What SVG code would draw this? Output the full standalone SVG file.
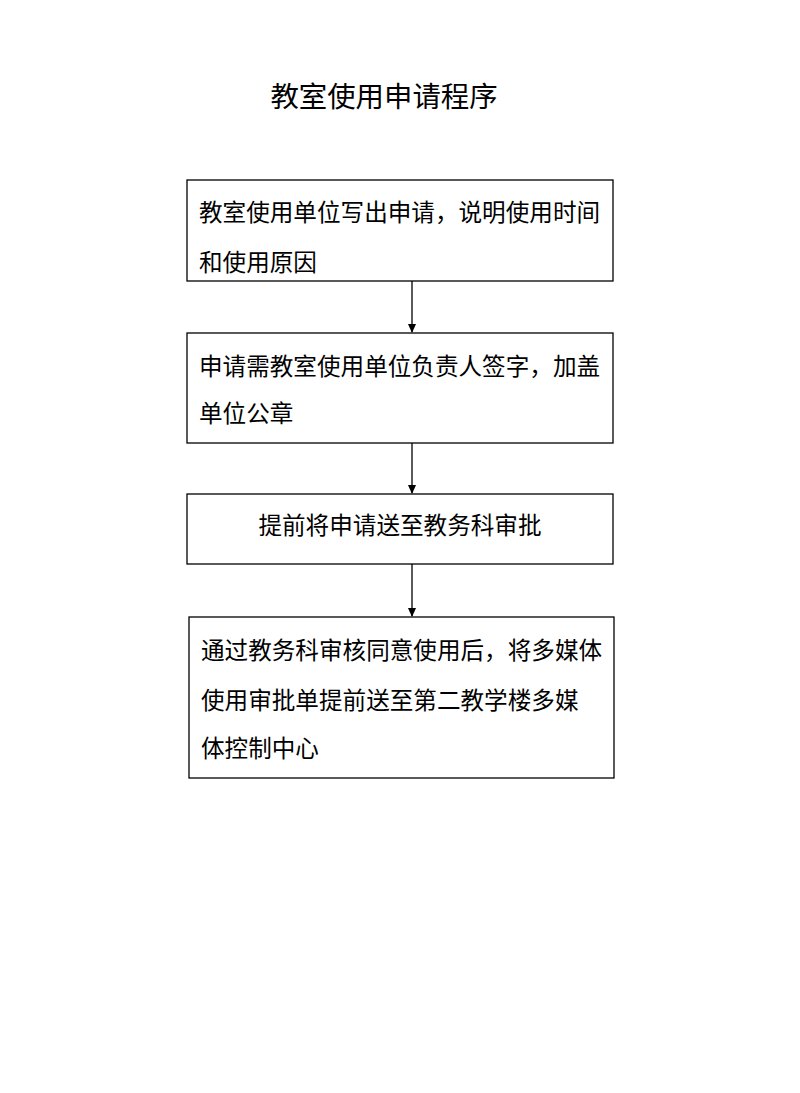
<svg xmlns="http://www.w3.org/2000/svg" width="800" height="1093" viewBox="0 0 800 1093">
<style>
.b{fill:#fff;stroke:#000;stroke-width:1.3}
.t{font-family:"Noto Sans CJK SC",sans-serif;font-size:23.6px;fill:#000}
.c{stroke:#000;stroke-width:1.3;fill:none}
</style>
<defs><marker id="a" markerWidth="10" markerHeight="10" refX="8" refY="5" orient="auto" markerUnits="userSpaceOnUse"><path d="M0,1 L9,5 L0,9 Z" fill="#000"/></marker></defs>
<rect width="800" height="1093" fill="#fff"/>
<text x="384" y="107" text-anchor="middle" font-family="Noto Sans CJK SC,sans-serif" font-size="28.4">教室使用申请程序</text>
<g id="n1"><rect class="b" x="187" y="180" width="426" height="101"/><text class="t" x="199" y="221">教室使用单位写出申请，说明使用时间</text><text class="t" x="199" y="271">和使用原因</text></g>
<g id="n2"><rect class="b" x="187" y="333" width="426" height="110"/><text class="t" x="199" y="375">申请需教室使用单位负责人签字，加盖</text><text class="t" x="199" y="422">单位公章</text></g>
<g id="n3"><rect class="b" x="187" y="494" width="426" height="70"/><text class="t" x="400" y="534" text-anchor="middle">提前将申请送至教务科审批</text></g>
<g id="n4"><rect class="b" x="189" y="617" width="425" height="161"/><text class="t" x="201" y="659">通过教务科审核同意使用后，将多媒体</text><text class="t" x="201" y="709">使用审批单提前送至第二教学楼多媒</text><text class="t" x="201" y="757">体控制中心</text></g>
<g id="connectors">
<line class="c" x1="412" y1="281" x2="412" y2="332" marker-end="url(#a)"/>
<line class="c" x1="412" y1="443" x2="412" y2="493" marker-end="url(#a)"/>
<line class="c" x1="412" y1="564" x2="412" y2="616" marker-end="url(#a)"/>
</g>
</svg>
